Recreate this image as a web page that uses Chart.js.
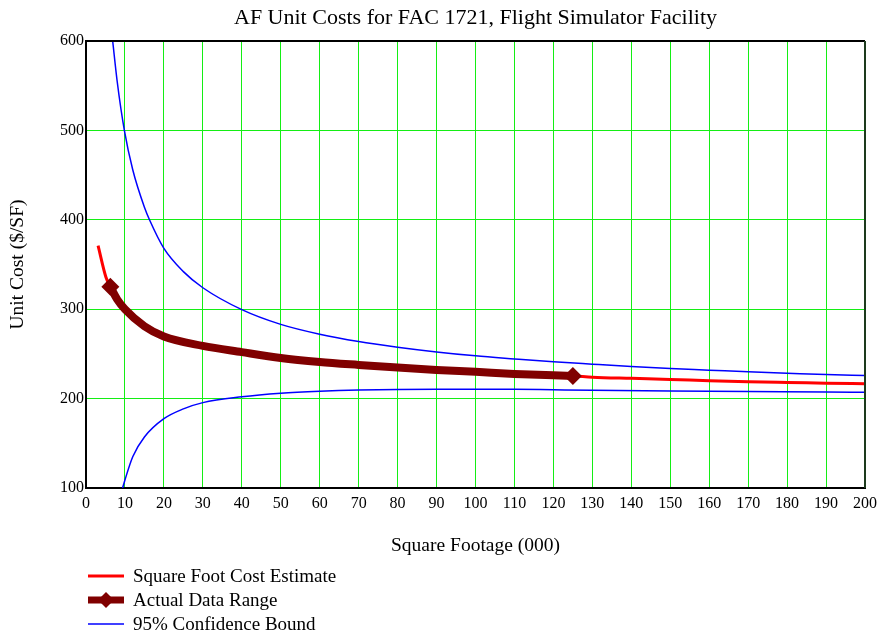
<!DOCTYPE html>
<html>
<head>
<meta charset="utf-8">
<script src="https://cdn.jsdelivr.net/npm/chart.js@4"></script>
<style>
  html, body { margin: 0; padding: 0; background: #fff; }
  #wrap { position: relative; width: 881px; height: 635px; }
  #legend { position: absolute; left: 88px; top: 564px; font: 19px "Liberation Serif", serif; color: #000; }
  #legend div { height: 24px; display: flex; align-items: center; }
  #legend svg { margin-right: 9px; }
</style>
</head>
<body>
<div id="wrap">
  <canvas id="chart" width="881" height="635"></canvas>
  <div id="legend">
    <div><svg width="36" height="20"><line x1="0" y1="10" x2="36" y2="10" stroke="#ff0000" stroke-width="3"/></svg>Square Foot Cost Estimate</div>
    <div><svg width="36" height="20"><line x1="0" y1="10" x2="36" y2="10" stroke="#800000" stroke-width="7" stroke-linecap="round"/><polygon points="18,2 26,10 18,18 10,10" fill="#800000"/></svg>Actual Data Range</div>
    <div><svg width="36" height="20"><line x1="0" y1="10" x2="36" y2="10" stroke="#0000ff" stroke-width="1.5"/></svg>95% Confidence Bound</div>
  </div>
</div>
<script>
const titleText = 'AF Unit Costs for FAC 1721, Flight Simulator Facility';

// Square Foot Cost Estimate (x in 000 SF, $/SF)
const estX = [3.1, 5.1, 6.25, 8, 10, 15, 20, 30, 40, 50, 60, 70, 80, 90, 100, 110, 120, 125, 130, 140, 150, 160, 170, 180, 190, 200];
const estY = [371, 336, 325, 311, 300, 281, 269.5, 259, 252, 245.5, 241, 237.7, 234.7, 232, 229.9, 227.6, 226, 225.4, 224, 222.7, 221.5, 220, 218.8, 218, 217.3, 216.5];

// Actual Data Range
const rangeX = [6.25, 8, 10, 15, 20, 30, 40, 50, 60, 70, 80, 90, 100, 110, 120, 125];
const rangeY = [325, 311, 300, 281, 269.5, 259, 252, 245.5, 241, 237.7, 234.7, 232, 229.9, 227.6, 226, 225.4];

// 95% Confidence Bound, upper
const upperX = [6.85, 8, 9.85, 12, 15, 16.3, 20, 25, 30, 40, 50, 60, 70, 80, 90, 100, 110, 120, 130, 140, 150, 160, 170, 180, 190, 200];
const upperY = [600, 555, 500, 456, 414, 400, 368, 342, 324, 299.5, 283, 272, 263.8, 257.5, 252.2, 247.8, 244.4, 241.2, 238.5, 235.9, 233.6, 231.8, 229.9, 228.4, 226.9, 225.7];

// 95% Confidence Bound, lower
const lowerX = [9.4, 10, 12, 15, 20, 25, 30, 40, 50, 60, 70, 80, 90, 100, 110, 120, 130, 150, 170, 190, 200];
const lowerY = [100, 109, 135, 157, 177.5, 188.5, 195.5, 202, 206, 208.3, 209.7, 210.3, 210.5, 210.5, 210.4, 209.9, 209.4, 208.6, 207.9, 207.4, 207];

const xTicks = [0, 200, 10];
const yTicks = [100, 600, 100];

function pts(xs, ys) {
  return xs.map((x, i) => ({ x: x, y: ys[i] }));
}

const frame = {
  id: 'frame',
  afterDraw(chart) {
    const ctx = chart.ctx, a = chart.chartArea;
    ctx.save();
    ctx.lineWidth = 2;
    ctx.strokeStyle = '#000';
    ctx.beginPath(); ctx.moveTo(a.left, a.top); ctx.lineTo(a.right, a.top); ctx.stroke();
    ctx.strokeStyle = '#1d3a1d';
    ctx.beginPath(); ctx.moveTo(a.right, a.top); ctx.lineTo(a.right, a.bottom); ctx.stroke();
    ctx.fillStyle = '#000';
    ctx.font = '22px "Liberation Serif"';
    ctx.textAlign = 'center';
    ctx.textBaseline = 'middle';
    ctx.fillText(titleText, (a.left + a.right) / 2, 18);
    ctx.restore();
  }
};

const serif = { family: '"Liberation Serif", serif', size: 16 };
const titleFont = { family: '"Liberation Serif", serif', size: 19.5 };
const lastRange = rangeX.length - 1;

new Chart(document.getElementById('chart'), {
  type: 'scatter',
  data: {
    datasets: [
      {
        label: 'Actual Data Range',
        data: pts(rangeX, rangeY),
        showLine: true,
        borderColor: '#800000',
        backgroundColor: '#800000',
        borderWidth: 8,
        pointStyle: 'rectRot',
        pointRadius: c => (c.dataIndex === 0 || c.dataIndex === lastRange) ? 9 : 0,
        pointBorderWidth: 0,
        cubicInterpolationMode: 'monotone'
      },
      {
        label: 'Square Foot Cost Estimate',
        data: pts(estX, estY),
        showLine: true,
        borderColor: '#ff0000',
        borderWidth: 3,
        pointRadius: 0,
        cubicInterpolationMode: 'monotone'
      },
      {
        label: '95% Confidence Bound',
        data: pts(upperX, upperY),
        showLine: true,
        borderColor: '#0000ff',
        borderWidth: 1.5,
        pointRadius: 0,
        cubicInterpolationMode: 'monotone'
      },
      {
        label: '95% Confidence Bound (lower)',
        data: pts(lowerX, lowerY),
        showLine: true,
        borderColor: '#0000ff',
        borderWidth: 1.5,
        pointRadius: 0,
        cubicInterpolationMode: 'monotone'
      }
    ]
  },
  options: {
    responsive: false,
    animation: false,
    layout: { padding: { left: 0, right: 16, top: 41, bottom: 77 } },
    plugins: {
      legend: { display: false },
      tooltip: { enabled: false }
    },
    scales: {
      x: {
        type: 'linear',
        min: xTicks[0], max: xTicks[1],
        ticks: { stepSize: xTicks[2], color: '#000', font: serif, padding: 6, maxRotation: 0, autoSkip: false },
        grid: { color: '#14ee14', lineWidth: 1, drawTicks: false },
        border: { color: '#000', width: 2 },
        title: { display: true, text: 'Square Footage (000)', color: '#000', font: titleFont, padding: { top: 4, bottom: 0 } },
        afterFit(s) { s.height = 70; s.paddingRight = 0; s.paddingLeft = 0; }
      },
      y: {
        type: 'linear',
        min: yTicks[0], max: yTicks[1],
        ticks: { stepSize: yTicks[2], color: '#000', font: serif, padding: 2 },
        grid: { color: '#14ee14', lineWidth: 1, drawTicks: false },
        border: { color: '#000', width: 2 },
        title: { display: true, text: 'Unit Cost ($/SF)', color: '#000', font: titleFont, padding: { top: 6, bottom: 0 } },
        afterFit(s) { s.width = 86; }
      }
    }
  },
  plugins: [frame]
});
</script>
</body>
</html>
